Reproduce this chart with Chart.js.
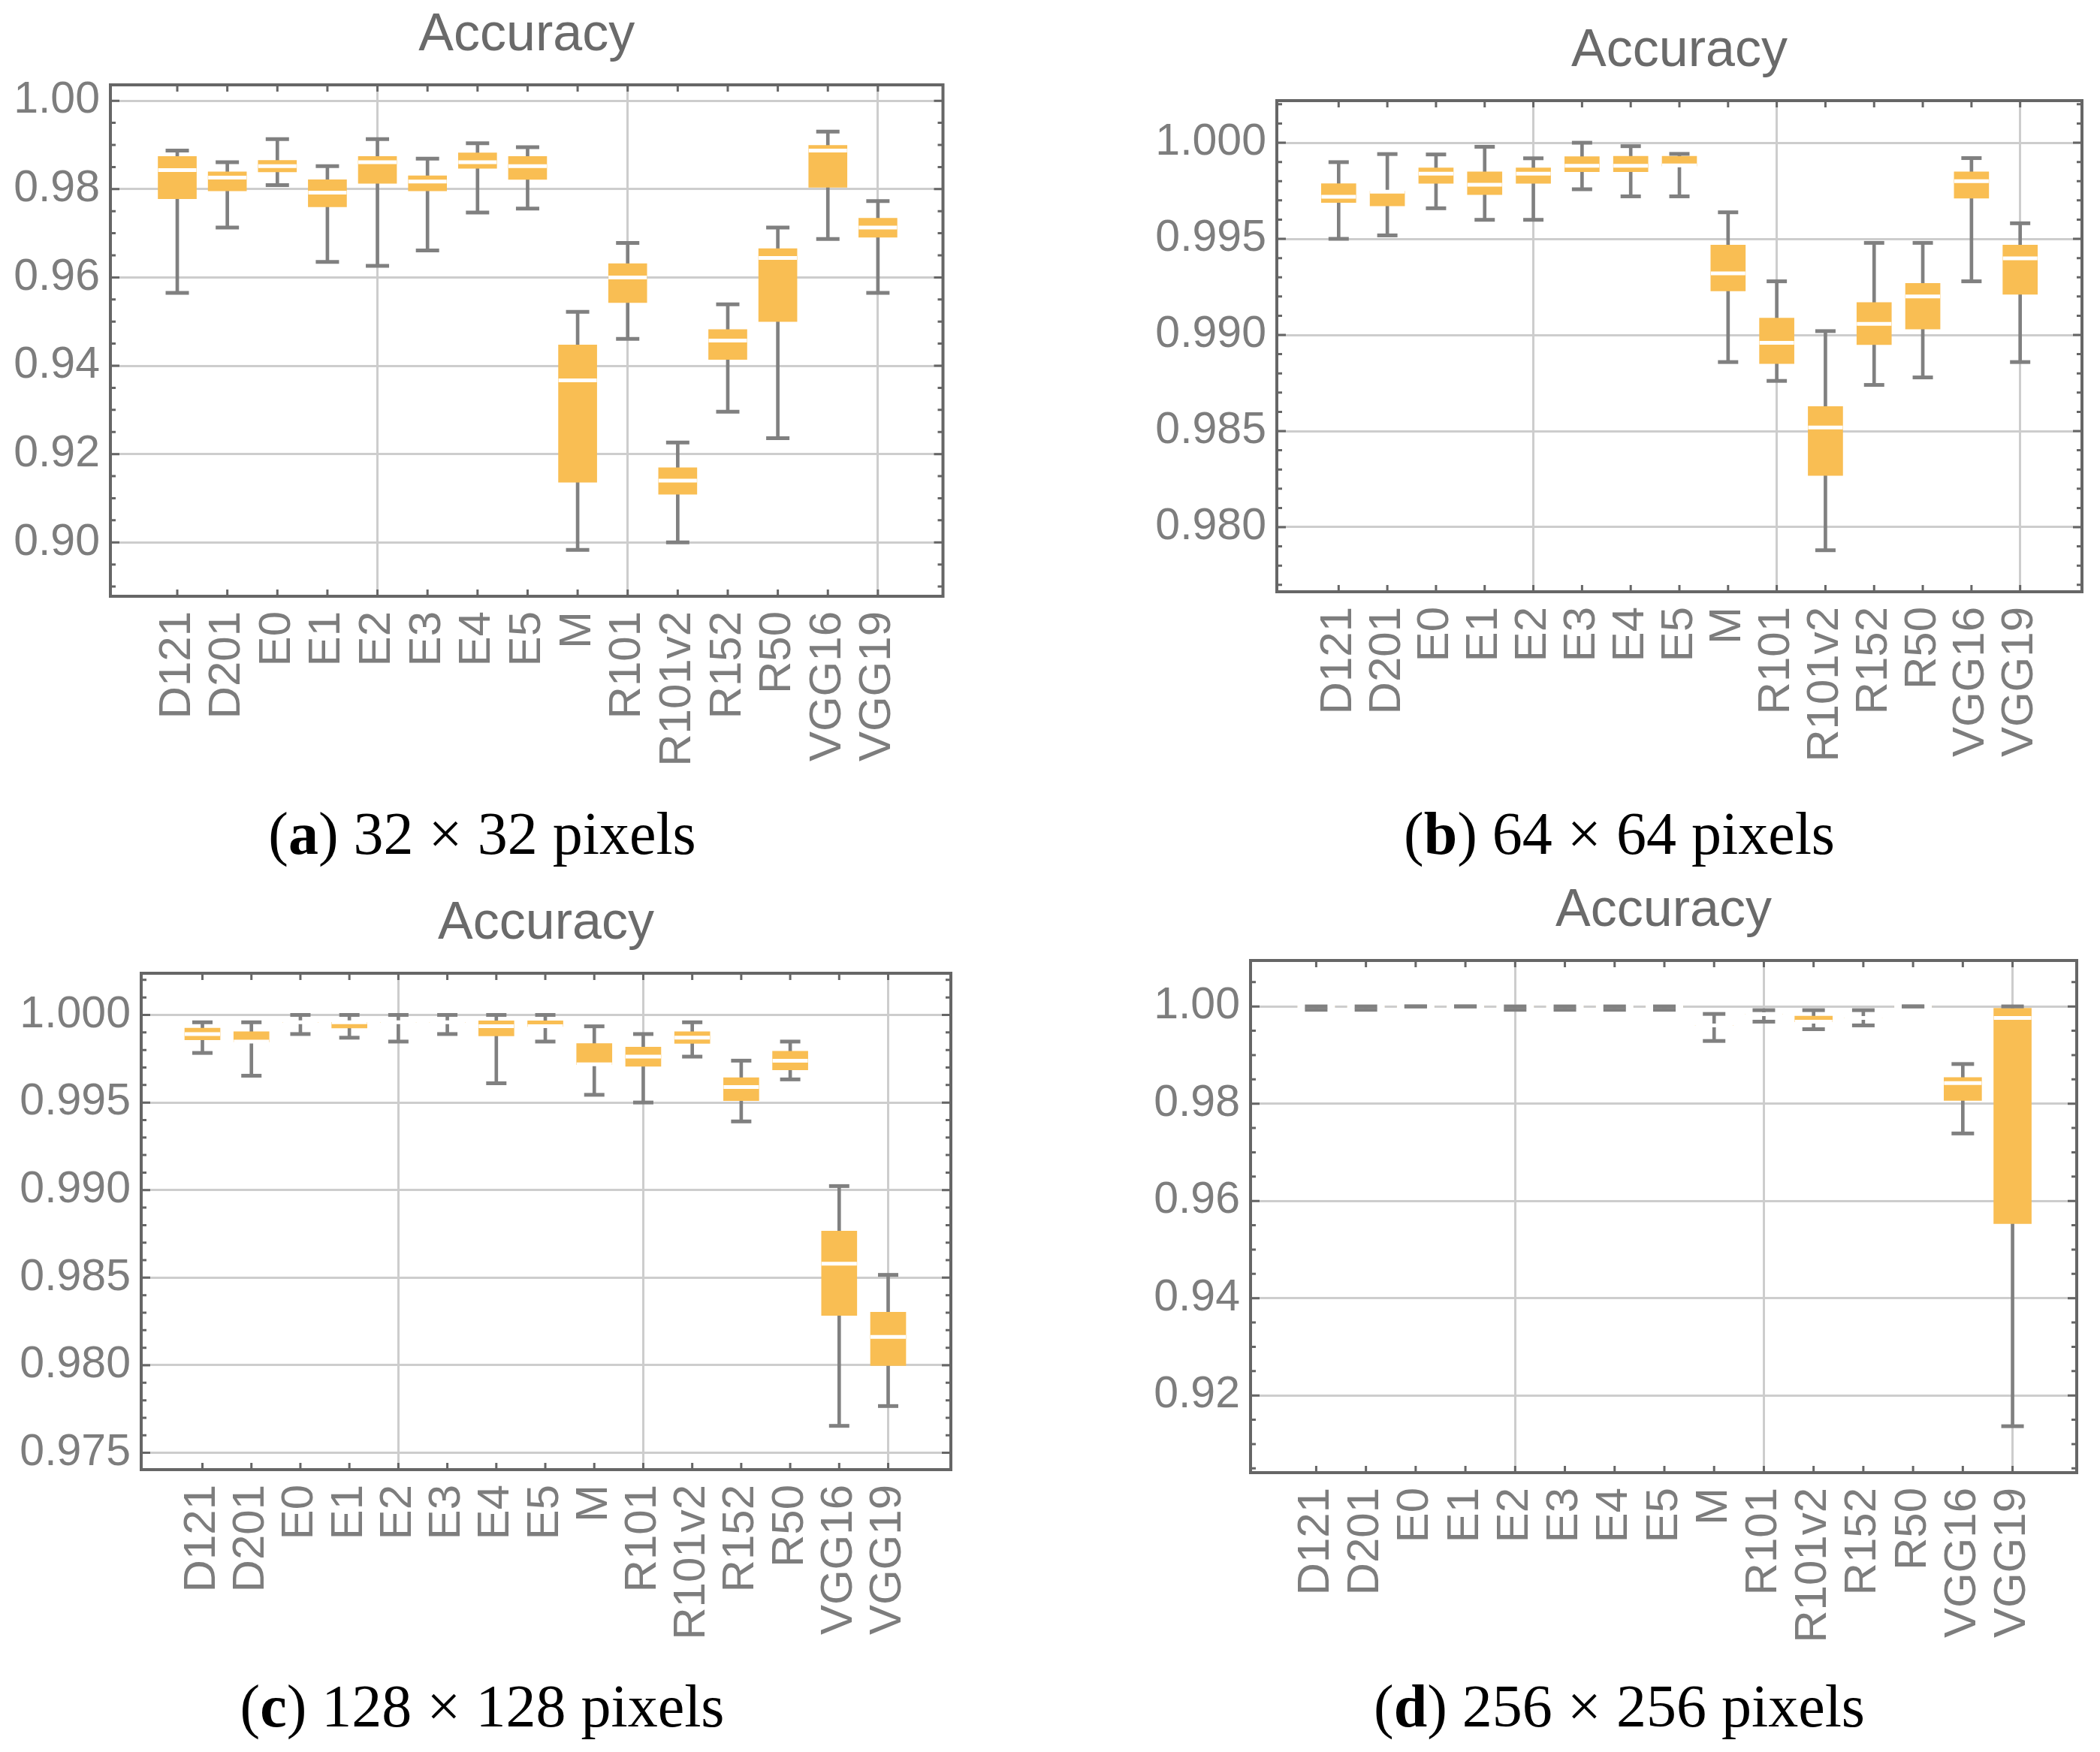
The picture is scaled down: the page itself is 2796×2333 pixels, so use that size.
<!DOCTYPE html>
<html>
<head>
<meta charset="utf-8">
<script src="https://cdn.jsdelivr.net/npm/chart.js@4.4.1/dist/chart.umd.min.js"></script>
<style>
  html, body { margin: 0; padding: 0; background: #fff; }
  body { position: relative; width: 2796px; height: 2333px; overflow: hidden; }
  canvas { position: absolute; }
  .legenda { position: absolute; font-family: 'Liberation Serif', serif; font-size: 80px; color: #000;
             white-space: nowrap; transform: translate(-50%, -50%); }
</style>
</head>
<body>
<canvas id="graficoA"></canvas>
<canvas id="graficoB"></canvas>
<canvas id="graficoC"></canvas>
<canvas id="graficoD"></canvas>
<div class="legenda" style="left:642px; top:1110px">(<b>a</b>) 32 × 32 pixels</div>
<div class="legenda" style="left:2156px; top:1110px">(<b>b</b>) 64 × 64 pixels</div>
<div class="legenda" style="left:642px; top:2272px">(<b>c</b>) 128 × 128 pixels</div>
<div class="legenda" style="left:2156px; top:2272px">(<b>d</b>) 256 × 256 pixels</div>
<script>
const categorias = ['D121', 'D201', 'E0', 'E1', 'E2', 'E3', 'E4', 'E5', 'M', 'R101', 'R101v2', 'R152', 'R50', 'VGG16', 'VGG19'];
const colunasGrade = ['E2', 'R101', 'VGG19'];

// (a) 32 x 32
const minA = [0.9565, 0.9713, 0.9809, 0.9635, 0.9626, 0.9661, 0.9747, 0.9756, 0.8983, 0.9461, 0.9000, 0.9296, 0.9236, 0.9687, 0.9565];
const q1A  = [0.9778, 0.9796, 0.9839, 0.9760, 0.9813, 0.9796, 0.9847, 0.9822, 0.9136, 0.9543, 0.9109, 0.9414, 0.9500, 0.9804, 0.9691];
const medA = [0.9843, 0.9826, 0.9852, 0.9792, 0.9861, 0.9817, 0.9861, 0.9852, 0.9367, 0.9600, 0.9140, 0.9457, 0.9644, 0.9887, 0.9713];
const q3A  = [0.9874, 0.9839, 0.9865, 0.9821, 0.9874, 0.9830, 0.9882, 0.9874, 0.9447, 0.9631, 0.9169, 0.9482, 0.9665, 0.9899, 0.9734];
const maxA = [0.9887, 0.9861, 0.9913, 0.9852, 0.9913, 0.9869, 0.9904, 0.9895, 0.9522, 0.9678, 0.9226, 0.9539, 0.9713, 0.9930, 0.9773];
const ticksA = ['0.90', '0.92', '0.94', '0.96', '0.98', '1.00'];

// (b) 64 x 64
const minB = [0.99500, 0.99518, 0.99659, 0.99599, 0.99599, 0.99758, 0.99721, 0.99721, 0.98859, 0.98761, 0.97880, 0.98740, 0.98779, 0.99279, 0.98859];
const q1B  = [0.99689, 0.99671, 0.99789, 0.99730, 0.99789, 0.99849, 0.99849, 0.99878, 0.99229, 0.98851, 0.98269, 0.98950, 0.99031, 0.99711, 0.99211];
const medB = [0.99719, 0.99745, 0.99839, 0.99781, 0.99839, 0.99880, 0.99880, 0.99882, 0.99320, 0.98959, 0.98519, 0.99058, 0.99200, 0.99800, 0.99399];
const q3B  = [0.99787, 0.99748, 0.99869, 0.99849, 0.99869, 0.99928, 0.99930, 0.99930, 0.99468, 0.99088, 0.98628, 0.99169, 0.99268, 0.99849, 0.99468];
const maxB = [0.99899, 0.99941, 0.99939, 0.99979, 0.99919, 1.00000, 0.99982, 0.99942, 0.99638, 0.99279, 0.99020, 0.99479, 0.99479, 0.99920, 0.99581];
const ticksB = ['0.980', '0.985', '0.990', '0.995', '1.000'];

// (c) 128 x 128
const minC = [0.99783, 0.99653, 0.99891, 0.99870, 0.99848, 0.99891, 0.99610, 0.99848, 0.99544, 0.99500, 0.99762, 0.99392, 0.99632, 0.97654, 0.97767];
const q1C  = [0.99858, 0.99846, 0.99958, 0.99925, 0.99958, 0.99958, 0.99880, 0.99934, 0.99716, 0.99707, 0.99837, 0.99511, 0.99686, 0.98284, 0.97998];
const medC = [0.99891, 0.99848, 0.99958, 0.99958, 0.99958, 0.99958, 0.99936, 0.99936, 0.99718, 0.99762, 0.99870, 0.99588, 0.99739, 0.98580, 0.98162];
const q3C  = [0.99925, 0.99904, 0.99958, 0.99958, 0.99958, 0.99958, 0.99967, 0.99967, 0.99837, 0.99816, 0.99904, 0.99642, 0.99793, 0.98766, 0.98303];
const maxC = [0.99958, 0.99958, 1.00000, 1.00000, 1.00000, 1.00000, 1.00000, 1.00000, 0.99935, 0.99891, 0.99958, 0.99739, 0.99848, 0.99023, 0.98516];
const ticksC = ['0.975', '0.980', '0.985', '0.990', '0.995', '1.000'];

// (d) 256 x 256
const minD = [0.9993, 0.9993, 1.0000, 1.0000, 0.9993, 0.9993, 0.9993, 0.9993, 0.99289, 0.99686, 0.99531, 0.99609, 1.0000, 0.97387, 0.91367];
const q1D  = [1.0000, 1.0000, 1.0000, 1.0000, 1.0000, 1.0000, 1.0000, 1.0000, 0.99609, 0.99840, 0.99684, 0.99763, 1.0000, 0.98066, 0.95534];
const medD = [1.0000, 1.0000, 1.0000, 1.0000, 1.0000, 1.0000, 1.0000, 1.0000, 0.99609, 0.99840, 0.99686, 0.99763, 1.0000, 0.98424, 0.99763];
const q3D  = [1.0000, 1.0000, 1.0000, 1.0000, 1.0000, 1.0000, 1.0000, 1.0000, 0.99609, 0.99840, 0.99799, 0.99763, 1.0000, 0.98537, 0.99964];
const maxD = [1.0000, 1.0000, 1.0000, 1.0000, 1.0000, 1.0000, 1.0000, 1.0000, 0.99845, 0.99923, 0.99923, 0.99923, 1.0000, 0.98815, 1.0000];
const ticksD = ['0.92', '0.94', '0.96', '0.98', '1.00'];

const LARANJA = '#f9be53';
const CINZA = '#808080';
const MOLDURA = '#666666';
const GRADE = '#cdcdcd';
const TEXTO = '#7d7d7d';

const ALTURA_TITULO = 109;   // 70px * 1.2 + padding 2 + 23
const ALTURA_EIXO_X = 270;
const MARGEM_DIREITA = 30;

const paineis = [
    { id: 'graficoA', l: 147, t: 113, r: 1256, b: 794, yMin: 0.8878, yMax: 1.0036, xMin: -1.336, xMax: 15.30,
      larguraY: 140, menor: 0.005, caixa: 51, tampa: 31, dados: [minA, q1A, medA, q3A, maxA], ticks: ticksA },
    { id: 'graficoB', l: 1700, t: 134, r: 2772, b: 788, yMin: 0.97664, yMax: 1.00219, xMin: -1.27, xMax: 15.27,
      larguraY: 180, menor: 0.001, caixa: 46, tampa: 27, dados: [minB, q1B, medB, q3B, maxB], ticks: ticksB },
    { id: 'graficoC', l: 188, t: 1296, r: 1266, b: 1957, yMin: 0.97404, yMax: 1.00238, xMin: -1.25, xMax: 15.28,
      larguraY: 180, menor: 0.001, caixa: 47, tampa: 27, dados: [minC, q1C, medC, q3C, maxC], ticks: ticksC },
    { id: 'graficoD', l: 1665, t: 1279, r: 2765, b: 1961, yMin: 0.90412, yMax: 1.00944, xMin: -1.32, xMax: 15.29,
      larguraY: 150, menor: 0.005, caixa: 50, tampa: 30, dados: [minD, q1D, medD, q3D, maxD], ticks: ticksD }
];

// moldura estilo Mathematica, com marcas nos quatro lados
const pluginMoldura = {
    id: 'moldura',
    afterDraw(chart, args, opts) {
        const { ctx, chartArea: a, scales: { x, y } } = chart;
        ctx.save();
        ctx.strokeStyle = MOLDURA;
        ctx.lineWidth = 3;
        ctx.beginPath();
        const inicio = Math.ceil(y.min / opts.menor - 1e-6);
        for (let k = inicio; k * opts.menor <= y.max + 1e-9; k++) {
            const v = k * opts.menor;
            const principal = opts.principais.some(m => Math.abs(m - v) < 1e-9);
            const tam = principal ? 12 : 7;
            const py = y.getPixelForValue(v);
            ctx.moveTo(a.left, py); ctx.lineTo(a.left + tam, py);
            ctx.moveTo(a.right, py); ctx.lineTo(a.right - tam, py);
        }
        categorias.forEach((c, i) => {
            const px = x.getPixelForValue(i);
            ctx.moveTo(px, a.top); ctx.lineTo(px, a.top + 9);
            ctx.moveTo(px, a.bottom); ctx.lineTo(px, a.bottom - 9);
        });
        ctx.stroke();
        ctx.lineWidth = 4;
        ctx.strokeRect(a.left, a.top, a.right - a.left, a.bottom - a.top);
        ctx.restore();
    }
};

function criarPainel(p) {
    const [mn, q1, med, q3, mx] = p.dados;
    const canvas = document.getElementById(p.id);
    const largura = p.r - p.l + p.larguraY + MARGEM_DIREITA;
    const altura = p.b - p.t + ALTURA_TITULO + ALTURA_EIXO_X;
    canvas.width = largura;
    canvas.height = altura;
    canvas.style.left = (p.l - p.larguraY) + 'px';
    canvas.style.top = (p.t - ALTURA_TITULO) + 'px';
    canvas.style.width = largura + 'px';
    canvas.style.height = altura + 'px';

    const valoresY = p.ticks.map(Number);

    new Chart(canvas.getContext('2d'), {
        type: 'bar',
        data: {
            datasets: [
                {
                    label: 'tampas',
                    type: 'scatter',
                    data: categorias.map((c, i) => ({ x: i, y: mn[i] })).concat(categorias.map((c, i) => ({ x: i, y: mx[i] }))),
                    pointStyle: 'line',
                    pointRadius: p.tampa / 2,
                    pointBorderWidth: 5,
                    pointBorderColor: CINZA,
                    pointBackgroundColor: CINZA,
                    order: 0
                },
                {
                    label: 'mediana',
                    type: 'scatter',
                    data: categorias.map((c, i) => ({ x: i, y: med[i] })),
                    pointStyle: 'line',
                    pointRadius: p.caixa / 2,
                    pointBorderWidth: 5,
                    pointBorderColor: '#ffffff',
                    pointBackgroundColor: '#ffffff',
                    order: 1
                },
                {
                    label: 'caixa',
                    data: categorias.map((c, i) => ({ x: i, y: [q1[i], q3[i]] })),
                    backgroundColor: LARANJA,
                    barThickness: p.caixa,
                    grouped: false,
                    order: 2
                },
                {
                    label: 'bigode',
                    data: categorias.map((c, i) => ({ x: i, y: [mn[i], mx[i]] })),
                    backgroundColor: CINZA,
                    barThickness: 4,
                    grouped: false,
                    order: 3
                }
            ]
        },
        options: {
            responsive: false,
            devicePixelRatio: 1,
            animation: false,
            events: [],
            layout: { padding: { left: 0, right: MARGEM_DIREITA, top: 0, bottom: 0 } },
            scales: {
                x: {
                    type: 'linear',
                    offset: false,
                    min: p.xMin,
                    max: p.xMax,
                    afterBuildTicks: s => { s.ticks = categorias.map((c, i) => ({ value: i })); },
                    afterFit: s => { s.height = ALTURA_EIXO_X; },
                    ticks: {
                        callback: v => categorias[v],
                        autoSkip: false,
                        minRotation: 90,
                        maxRotation: 90,
                        padding: 20,
                        color: TEXTO,
                        font: { family: 'Liberation Sans', size: 60 }
                    },
                    grid: {
                        offset: false,
                        drawTicks: false,
                        lineWidth: 3,
                        color: ctx => colunasGrade.includes(categorias[ctx.tick && ctx.tick.value]) ? GRADE : 'rgba(0,0,0,0)'
                    },
                    border: { display: false }
                },
                y: {
                    min: p.yMin,
                    max: p.yMax,
                    afterBuildTicks: s => { s.ticks = valoresY.map(v => ({ value: v })); },
                    afterFit: s => { s.width = p.larguraY; },
                    ticks: {
                        callback: (v, i) => p.ticks[i],
                        padding: 14,
                        color: TEXTO,
                        font: { family: 'Liberation Sans', size: 59 }
                    },
                    grid: { drawTicks: false, lineWidth: 3, color: GRADE },
                    border: { display: false }
                }
            },
            plugins: {
                legend: { display: false },
                tooltip: { enabled: false },
                title: {
                    display: true,
                    text: 'Accuracy',
                    fullSize: false,
                    color: '#6a6a6a',
                    font: { family: 'Liberation Sans', size: 70, weight: 'normal', lineHeight: 1.2 },
                    padding: { top: 2, bottom: 23 }
                },
                moldura: { menor: p.menor, principais: valoresY }
            }
        },
        plugins: [pluginMoldura]
    });
}

paineis.forEach(criarPainel);
</script>
</body>
</html>
